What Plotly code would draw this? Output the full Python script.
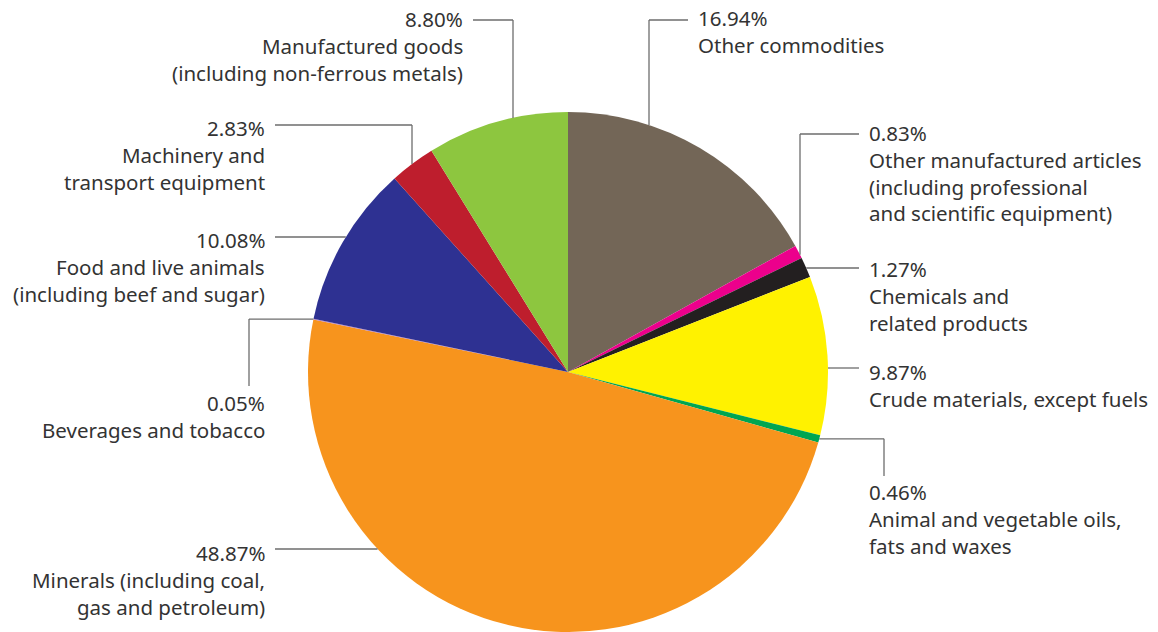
import math
import plotly.graph_objects as go

# ---- data ----
categories = [
    "Other commodities",
    "Other manufactured articles<br>(including professional<br>and scientific equipment)",
    "Chemicals and<br>related products",
    "Crude materials, except fuels",
    "Animal and vegetable oils,<br>fats and waxes",
    "Minerals (including coal,<br>gas and petroleum)",
    "Beverages and tobacco",
    "Food and live animals<br>(including beef and sugar)",
    "Machinery and<br>transport equipment",
    "Manufactured goods<br>(including non-ferrous metals)",
]
shares = [16.94, 0.83, 1.27, 9.87, 0.46, 48.87, 0.05, 10.08, 2.83, 8.80]
colors = ["#736657", "#EC008C", "#231F20", "#FFF200", "#00A651",
          "#F7941D", "#B57CC0", "#2E3192", "#BE1E2D", "#8DC63F"]

# ---- layout (pixels) ----
W, H = 1158, 632
CX, CY, R = 568, 372, 260
TEXT = "#333333"
LINE = "#6d6d6d"
LINE_GAP = 26.8
PAD = 2
FONT = dict(family="Noto Sans", size=20.5, color=TEXT)

# label placement: (side, text x, first-line centre y, leader route)
placement = [
    ("L", 698, 18, ("v", 20, 649)),
    ("L", 869, 133, ("v", 134, 800)),
    ("L", 869, 269, ("h", 268)),
    ("L", 869, 372, ("h", 368)),
    ("L", 869, 492, ("s", 884, 476)),
    ("R", 265, 553, ("h", 549)),
    ("R", 265, 403, ("s", 249, 386)),
    ("R", 265, 240, ("h", 237)),
    ("R", 265, 128, ("v", 125, 412)),
    ("R", 463, 19, ("v", 20, 513)),
]

def px(x):
    return x / W

def py(y):
    return 1 - y / H

fig = go.Figure(go.Pie(
    labels=[c.replace("<br>", " ") for c in categories],
    values=shares,
    marker=dict(colors=colors, line=dict(width=0)),
    sort=False,
    direction="clockwise",
    rotation=0,
    textinfo="none",
    hoverinfo="label+percent",
    domain=dict(x=[(CX - R) / W, (CX + R) / W], y=[(H - CY - R) / H, (H - CY + R) / H]),
    showlegend=False,
))

total = sum(shares)
cum = 0
annotations = []
shapes = []

def seg(x0, y0, x1, y1):
    shapes.append(dict(type="line", xref="paper", yref="paper",
                       x0=px(x0), y0=py(y0), x1=px(x1), y1=py(y1),
                       line=dict(color=LINE, width=1.3)))

for val, cat, (side, tx, ty, route) in zip(shares, categories, placement):
    mid = (cum + val / 2) / total * 2 * math.pi
    cum += val
    lines = [f"{val:.2f}%"] + cat.split("<br>")
    ax_text = tx - PAD if side == "L" else tx + PAD
    for i, t in enumerate(lines):
        annotations.append(dict(
            xref="paper", yref="paper", x=px(ax_text), y=py(ty + i * LINE_GAP),
            xanchor="left" if side == "L" else "right", yanchor="middle",
            text=t, showarrow=False, font=FONT,
        ))
    lx = tx - 10 if side == "L" else tx + 10
    sgn = 1 if side == "L" else -1
    kind = route[0]
    if kind == "v":
        y, ex = route[1], route[2]
        seg(lx, y, ex, y)
        ey = CY - math.sqrt(R * R - (ex - CX) ** 2)
        seg(ex, y, ex, ey)
    elif kind == "h":
        y = route[1]
        ex = CX + sgn * math.sqrt(R * R - (y - CY) ** 2)
        seg(lx, y, ex, y)
    else:
        ex, ey = route[1], route[2]
        ax = CX + R * math.sin(mid)
        ay = CY - R * math.cos(mid)
        seg(ax, ay, ex, ay)
        seg(ex, ay, ex, ey)

fig.update_layout(
    width=W, height=H,
    margin=dict(l=0, r=0, t=0, b=0),
    paper_bgcolor="white", plot_bgcolor="white",
    annotations=annotations, shapes=shapes,
)
fig.write_html("out.html")
